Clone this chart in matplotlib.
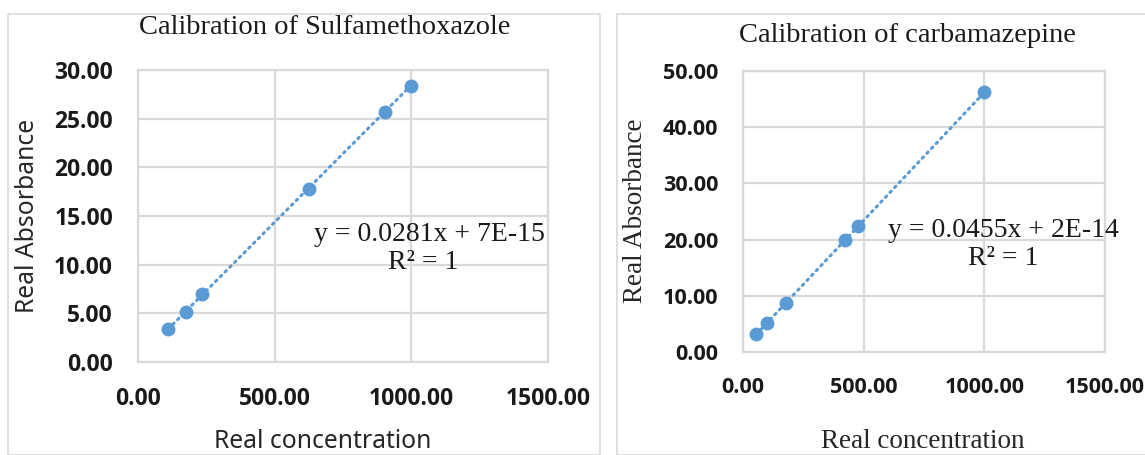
import numpy as np
import matplotlib
matplotlib.use('Agg')
import matplotlib.pyplot as plt
from matplotlib.patches import Rectangle

# Sulfamethoxazole calibration points
smx_conc = [110, 176, 235, 624, 903, 997]
smx_abs = [3.39, 5.17, 7.00, 17.80, 25.70, 28.40]
smx_eq = 'y = 0.0281x + 7E-15'

# Carbamazepine calibration points
cbz_conc = [55, 99, 177, 424, 478, 1000]
cbz_abs = [3.26, 5.16, 8.66, 19.87, 22.36, 46.26]
cbz_eq = 'y = 0.0455x + 2E-14'

W, H = 1145, 455
BLUE = '#5B9BD5'
GRID = '#d9d9d9'
SANS = 'Noto Sans'
TICKFONT = 'Open Sans'
SERIF = 'Liberation Serif'


def px_box(left, top, right, bottom):
    """Pixel box -> figure fraction [l, b, w, h]."""
    return [left / W, 1 - bottom / H, (right - left) / W, (bottom - top) / H]


def draw_panel(fig, box, x, y, eq, title, ymax, ystep, label_font, label_size, tick_size,
               eq_pos, title_pos, xlab_pos, ylab_pos):
    ax = fig.add_axes(px_box(*box))
    xt = np.arange(0, 1501, 500)
    yt = np.arange(0, ymax + 0.1, ystep)
    tick_kw = dict(fontfamily=TICKFONT, fontweight='bold', fontsize=tick_size, color='#1a1a1a')
    ax.set_xticks(xt, labels=['%.2f' % v for v in xt], **tick_kw)
    ax.set_yticks(yt, labels=['%.2f' % v for v in yt], **tick_kw)
    ax.set_xlim(0, 1500)
    ax.set_ylim(0, ymax)
    ax.grid(True, color=GRID, linewidth=1.6)
    ax.set_axisbelow(True)
    for s in ax.spines.values():
        s.set_color(GRID)
        s.set_linewidth(1.6)
    ax.tick_params(length=0, pad=18)

    # linear trendline over data range
    coef = np.polyfit(x, y, 1)
    xs = np.array([min(x), max(x)])
    ax.plot(xs, np.polyval(coef, xs), linestyle=(0, (0.6, 1.6)), color=BLUE,
            linewidth=2.2, dash_capstyle='round', zorder=2)
    ax.plot(x, y, 'o', color=BLUE, markersize=9, zorder=3, clip_on=False)

    ax.text(eq_pos[0], eq_pos[1], eq, family=SERIF, fontsize=20, ha='center', va='center', color='#1a1a1a')
    ax.text(eq_pos[2], eq_pos[3], 'R² = 1', family=SERIF, fontsize=20, ha='center', va='center', color='#1a1a1a')

    fig.text(title_pos[0] / W, 1 - title_pos[1] / H, title, family=SERIF, fontsize=20.5,
             ha='center', va='center', color='#1a1a1a')
    fig.text(xlab_pos[0] / W, 1 - xlab_pos[1] / H, 'Real concentration', family=label_font,
             fontsize=label_size, ha='center', va='center', color='#262626')
    fig.text(ylab_pos[0] / W, 1 - ylab_pos[1] / H, 'Real Absorbance', family=label_font,
             fontsize=label_size, ha='center', va='center', rotation=90, color='#262626')
    return ax


fig = plt.figure(figsize=(W / 100, H / 100), dpi=100)
fig.patch.set_facecolor('white')

# chart frames
fig.patches.append(Rectangle((8 / W, 0), (600 - 8) / W, 1 - 14 / H, transform=fig.transFigure,
                             fill=False, edgecolor=GRID, linewidth=1.2))
fig.patches.append(Rectangle((617 / W, 0), (1150 - 617) / W, 1 - 14 / H, transform=fig.transFigure,
                             fill=False, edgecolor=GRID, linewidth=1.2))

draw_panel(fig, (138, 70, 548, 362), smx_conc, smx_abs, smx_eq,
           'Calibration of Sulfamethoxazole', 30, 5, SANS, 17.8, 16.5,
           (1068, 13.15, 1043, 10.2), (325, 28), (323, 441), (28, 216))

draw_panel(fig, (743, 71, 1105, 352), cbz_conc, cbz_abs, cbz_eq,
           'Calibration of carbamazepine', 50, 10, SERIF, 19.5, 15.6,
           (1080, 21.7, 1080, 16.7), (907, 35), (923, 441), (636, 211))

fig.savefig('out.png', dpi=100)
